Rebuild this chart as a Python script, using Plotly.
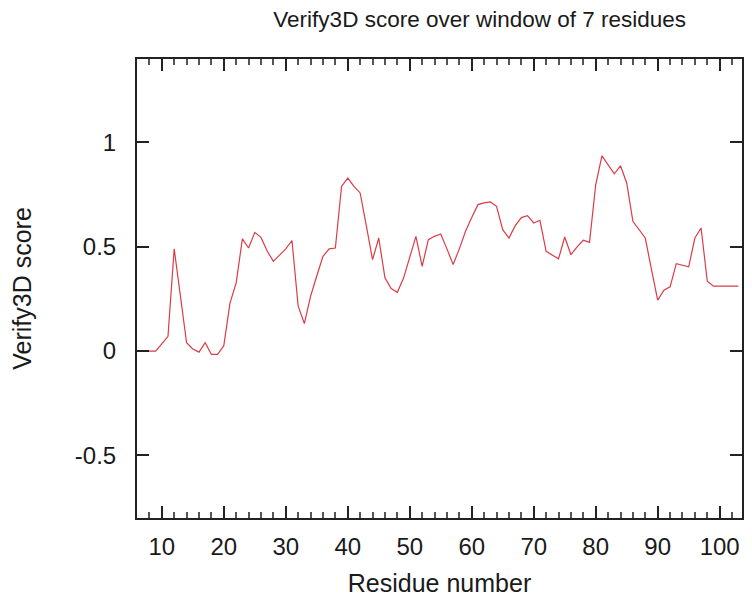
import plotly.graph_objects as go

residues = list(range(6, 104))
scores = [
    0.0, 0.0, 0.0, 0.0, 0.035, 0.071, 0.49, 0.27, 0.04, 0.01,        # 6-15
    -0.005, 0.04, -0.016, -0.016, 0.025, 0.23, 0.327, 0.538, 0.494, 0.569,  # 16-25
    0.545, 0.48, 0.43, 0.46, 0.49, 0.53, 0.215, 0.132, 0.263, 0.36,    # 26-35
    0.454, 0.49, 0.494, 0.789, 0.829, 0.789, 0.758, 0.60, 0.438, 0.542,  # 36-45
    0.351, 0.30, 0.282, 0.35, 0.45, 0.55, 0.406, 0.534, 0.55, 0.561,    # 46-55
    0.49, 0.415, 0.49, 0.574, 0.64, 0.702, 0.71, 0.715, 0.694, 0.582,   # 56-65
    0.542, 0.60, 0.64, 0.649, 0.614, 0.627, 0.478, 0.46, 0.442, 0.547,  # 66-75
    0.462, 0.50, 0.531, 0.521, 0.797, 0.936, 0.893, 0.85, 0.888, 0.806,  # 76-85
    0.622, 0.58, 0.542, 0.39, 0.244, 0.292, 0.308, 0.419, 0.41, 0.404,  # 86-95
    0.542, 0.59, 0.335, 0.311, 0.311, 0.311, 0.311, 0.311,             # 96-103
]

x_ticks = [10, 20, 30, 40, 50, 60, 70, 80, 90, 100]
y_ticks = [-0.5, 0, 0.5, 1]
y_tick_labels = ["-0.5", "0", "0.5", "1"]

title_text = "Verify3D score over window of 7 residues"
x_title = "Residue number"
y_title = "Verify3D score"

FONT = "Liberation Sans, Arial, Helvetica, sans-serif"

fig = go.Figure()
fig.add_trace(go.Scatter(
    x=residues, y=scores, mode="lines",
    line=dict(color="#dc3b46", width=1.2),
    showlegend=False, hoverinfo="x+y",
))

# page body has an 8px margin, so the figure is 744x595 and offsets are reduced by 8
fig.update_layout(
    width=744, height=595,
    margin=dict(l=129, r=10, t=51, b=85, autoexpand=False),
    paper_bgcolor="white", plot_bgcolor="white",
    font=dict(family=FONT, color="#1a1a1a", size=24),
    title=dict(text=title_text, x=0.634, xanchor="center", y=0.982, yanchor="middle",
               font=dict(size=22.5, family=FONT, color="#1a1a1a")),
)

fig.update_xaxes(
    range=[6, 103.6], tickvals=x_ticks, ticktext=[str(v) for v in x_ticks],
    ticks="inside", ticklen=12, tickwidth=1.5, tickcolor="#222",
    showline=True, linecolor="#222", linewidth=2, mirror="ticks",
    showgrid=False, zeroline=False,
    ticklabelstandoff=6,
    minor=dict(dtick=2, tick0=0, ticks="inside", ticklen=6, tickwidth=1.5, tickcolor="#555", showgrid=False),
    title=dict(text=x_title, font=dict(size=25, family=FONT), standoff=16),
    tickfont=dict(size=24, family=FONT),
)
fig.update_yaxes(
    range=[-0.8, 1.4], tickvals=y_ticks, ticktext=y_tick_labels,
    ticks="inside", ticklen=12, tickwidth=1.5, tickcolor="#222",
    showline=True, linecolor="#222", linewidth=2, mirror="ticks",
    showgrid=False, zeroline=False,
    ticklabelstandoff=14,
    title=dict(text=y_title, font=dict(size=25, family=FONT), standoff=38),
    tickfont=dict(size=24, family=FONT),
)

fig.write_html("out.html")
